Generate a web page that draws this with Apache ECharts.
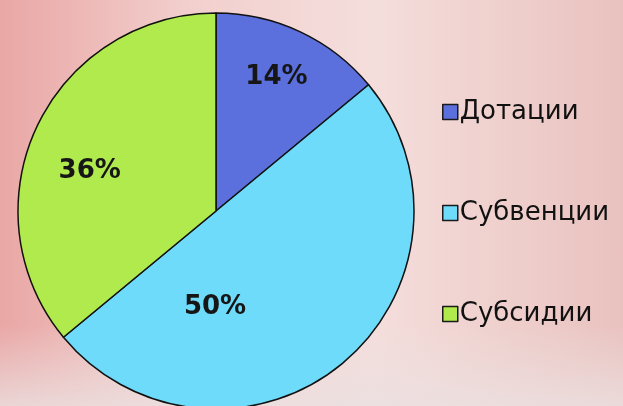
<!DOCTYPE html>
<html>
<head>
<meta charset="utf-8">
<script src="https://cdn.jsdelivr.net/npm/echarts@6/dist/echarts.min.js"></script>
<style>
  html, body { margin: 0; padding: 0; }
  body {
    width: 623px; height: 406px; overflow: hidden;
    background:
      linear-gradient(180deg, rgba(255,255,255,0) 0%, rgba(255,255,255,0) 80%, rgba(235,225,225,0.8) 100%),
      linear-gradient(90deg, #e9a7a5 0%, #f2cfcd 30%, #f4dedc 60%, #efd0cd 80%, #e9c2bf 100%);
  }
  #chart { width: 623px; height: 406px; }
</style>
</head>
<body>
<div id="chart"></div>
<script>
var categories = ['Дотации', 'Субвенции', 'Субсидии'];
var shares = [14, 50, 36];
var colors = ['#5b70dc', '#6edbfa', '#b1ea4c'];
// label nudges from the default inside spot
var labelShift = [[17, -41], [-66, 18], [-34, 4]];

$(function () {
    setPie();
});

function $(fn) { document.addEventListener('DOMContentLoaded', fn); }

function setPie() {
    var myChart = echarts.init(document.getElementById('chart'));
    var data = categories.map(function (name, i) {
        return { name: name, value: shares[i], itemStyle: { color: colors[i] } };
    });
    var option = {
        animation: false,
        legend: {
            orient: 'vertical',
            left: 437,
            top: 94,
            itemGap: 75,
            itemWidth: 15,
            itemHeight: 15,
            icon: 'rect',
            itemStyle: { borderColor: '#1a1a1a', borderWidth: 1.5 },
            textStyle: { fontFamily: 'DejaVu Sans', fontSize: 26, color: '#111', padding: [0, 0, 0, -3] },
            data: categories
        },
        series: [{
            type: 'pie',
            center: [216, 211],
            radius: 198,
            startAngle: 90,
            clockwise: true,
            data: data,
            itemStyle: { borderColor: '#111', borderWidth: 1.5 },
            label: {
                show: true,
                position: 'inside',
                formatter: '{c}%',
                fontFamily: 'DejaVu Sans',
                fontWeight: 'bold',
                fontSize: 26,
                color: '#161616'
            },
            labelLayout: function (p) {
                return { dx: labelShift[p.dataIndex][0], dy: labelShift[p.dataIndex][1] };
            },
            emphasis: { disabled: true }
        }]
    };
    myChart.setOption(option);
}
</script>
</body>
</html>
